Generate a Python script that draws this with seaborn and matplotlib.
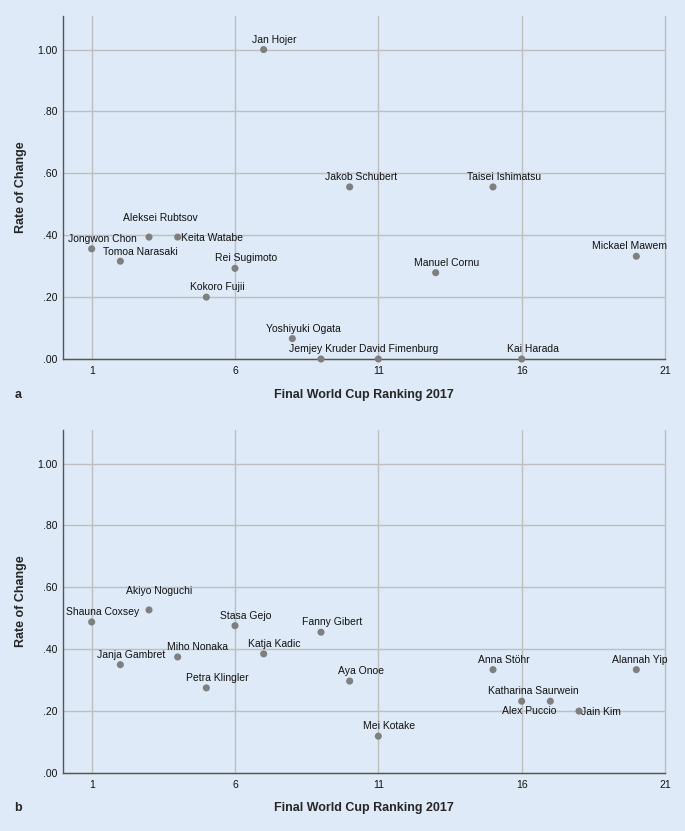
import matplotlib
matplotlib.use("Agg")
import matplotlib.pyplot as plt
import seaborn as sns
import pandas as pd
from matplotlib.ticker import FuncFormatter

# Panel a: men
men_names = ["Jan Hojer", "Jakob Schubert", "Taisei Ishimatsu", "Aleksei Rubtsov",
             "Keita Watabe", "Jongwon Chon", "Tomoa Narasaki", "Rei Sugimoto",
             "Kokoro Fujii", "Manuel Cornu", "Mickael Mawem", "Yoshiyuki Ogata",
             "Jemjey Kruder", "David Fimenburg", "Kai Harada"]
men_rank = [7, 10, 15, 3, 4, 1, 2, 6, 5, 13, 20, 8, 9, 11, 16]
men_rate = [1.00, 0.556, 0.556, 0.394, 0.394, 0.356, 0.316, 0.293,
            0.200, 0.279, 0.332, 0.066, 0.0, 0.0, 0.0]

# Panel b: women
women_names = ["Akiyo Noguchi", "Shauna Coxsey", "Stasa Gejo", "Fanny Gibert",
               "Katja Kadic", "Miho Nonaka", "Janja Gambret", "Petra Klingler",
               "Aya Onoe", "Anna Stöhr", "Alannah Yip", "Katharina Saurwein",
               "Alex Puccio", "Jain Kim", "Mei Kotake"]
women_rank = [3, 1, 6, 9, 7, 4, 2, 5, 10, 15, 20, 17, 16, 18, 11]
women_rate = [0.527, 0.488, 0.476, 0.455, 0.385, 0.375, 0.350, 0.275,
              0.297, 0.334, 0.334, 0.232, 0.232, 0.200, 0.119]

x_ticks = [1, 6, 11, 16, 21]
y_ticks = [0.0, 0.2, 0.4, 0.6, 0.8, 1.0]

# label offsets in pixels (dx, dy, ha); default is (11, 10, center)
men_offsets = {"Aleksei Rubtsov": (11, 19, "center"), "Keita Watabe": (3, -1, "left"),
               "Tomoa Narasaki": (20, 9, "center"), "Mickael Mawem": (-7, 10, "center"),
               "Jemjey Kruder": (2, 10, "center"), "David Fimenburg": (20, 10, "center")}
women_offsets = {"Akiyo Noguchi": (10, 19, "center"), "Miho Nonaka": (20, 10, "center"),
                 "Alannah Yip": (3, 10, "center"), "Katharina Saurwein": (-17, 10, "center"),
                 "Alex Puccio": (8, -10, "center"), "Jain Kim": (2, -1, "left")}

sns.set_theme(style="whitegrid")
plt.rcParams['font.family'] = ['Liberation Sans', 'DejaVu Sans']

BG = "#DEEAF7"
GRID = "#BEBEBE"
DOT = "#7F7F7F"
W, H = 685, 831

fig = plt.figure(figsize=(W / 100, H / 100), dpi=100, facecolor=BG)


def draw_panel(rect, names, rank, rate, offsets, letter, xlabel_y):
    ax = fig.add_axes(rect)
    ax.set_facecolor(BG)
    df = pd.DataFrame({"rank": rank, "rate": rate, "name": names})
    sns.scatterplot(data=df, x="rank", y="rate", ax=ax, color=DOT, s=26,
                    edgecolor="none", zorder=3, clip_on=False)
    for _, row in df.iterrows():
        dx, dy, ha = offsets.get(row["name"], (11, 10, "center"))
        ax.annotate(row["name"], (row["rank"], row["rate"]), xytext=(dx, dy),
                    textcoords="offset pixels", ha=ha, va="center",
                    fontsize=7.5, color="#111111")
    ax.set_xlim(0, 21)
    ax.set_ylim(0, 1.11)
    ax.set_xticks(x_ticks)
    ax.set_yticks(y_ticks)
    ax.yaxis.set_major_formatter(FuncFormatter(lambda v, p: f"{v:.2f}".lstrip("0")))
    ax.grid(True, color=GRID, linewidth=1.0)
    for line in ax.get_xgridlines() + ax.get_ygridlines():
        line.set_clip_on(False)
    ax.tick_params(length=0, labelsize=7.5, colors="#111111")
    ax.tick_params(axis="y", pad=4)
    ax.tick_params(axis="x", pad=5)
    for side in ["top", "right"]:
        ax.spines[side].set_visible(False)
    for side in ["left", "bottom"]:
        ax.spines[side].set_color("#555555")
        ax.spines[side].set_linewidth(1.0)
    ax.set_xlabel("")
    ax.set_ylabel("")
    y0, h = rect[1], rect[3]
    fig.text(21 / W, y0 + h / 2, "Rate of Change", rotation=90, ha="center",
             va="center", fontsize=9, fontweight="bold")
    fig.text(364 / W, xlabel_y, "Final World Cup Ranking 2017", ha="center",
             va="center", fontsize=9, fontweight="bold")
    fig.text(18 / W, xlabel_y, letter, ha="center", va="center",
             fontsize=9, fontweight="bold")
    return ax


left = 63 / W
width = (665 - 63) / W
draw_panel([left, 1 - 359 / H, width, (359 - 15.5) / H], men_names, men_rank,
           men_rate, men_offsets, "a", 1 - 395 / H)
draw_panel([left, 1 - 773 / H, width, (773 - 429.5) / H], women_names, women_rank,
           women_rate, women_offsets, "b", 1 - 808 / H)

fig.savefig("out.png", dpi=100, facecolor=BG)
